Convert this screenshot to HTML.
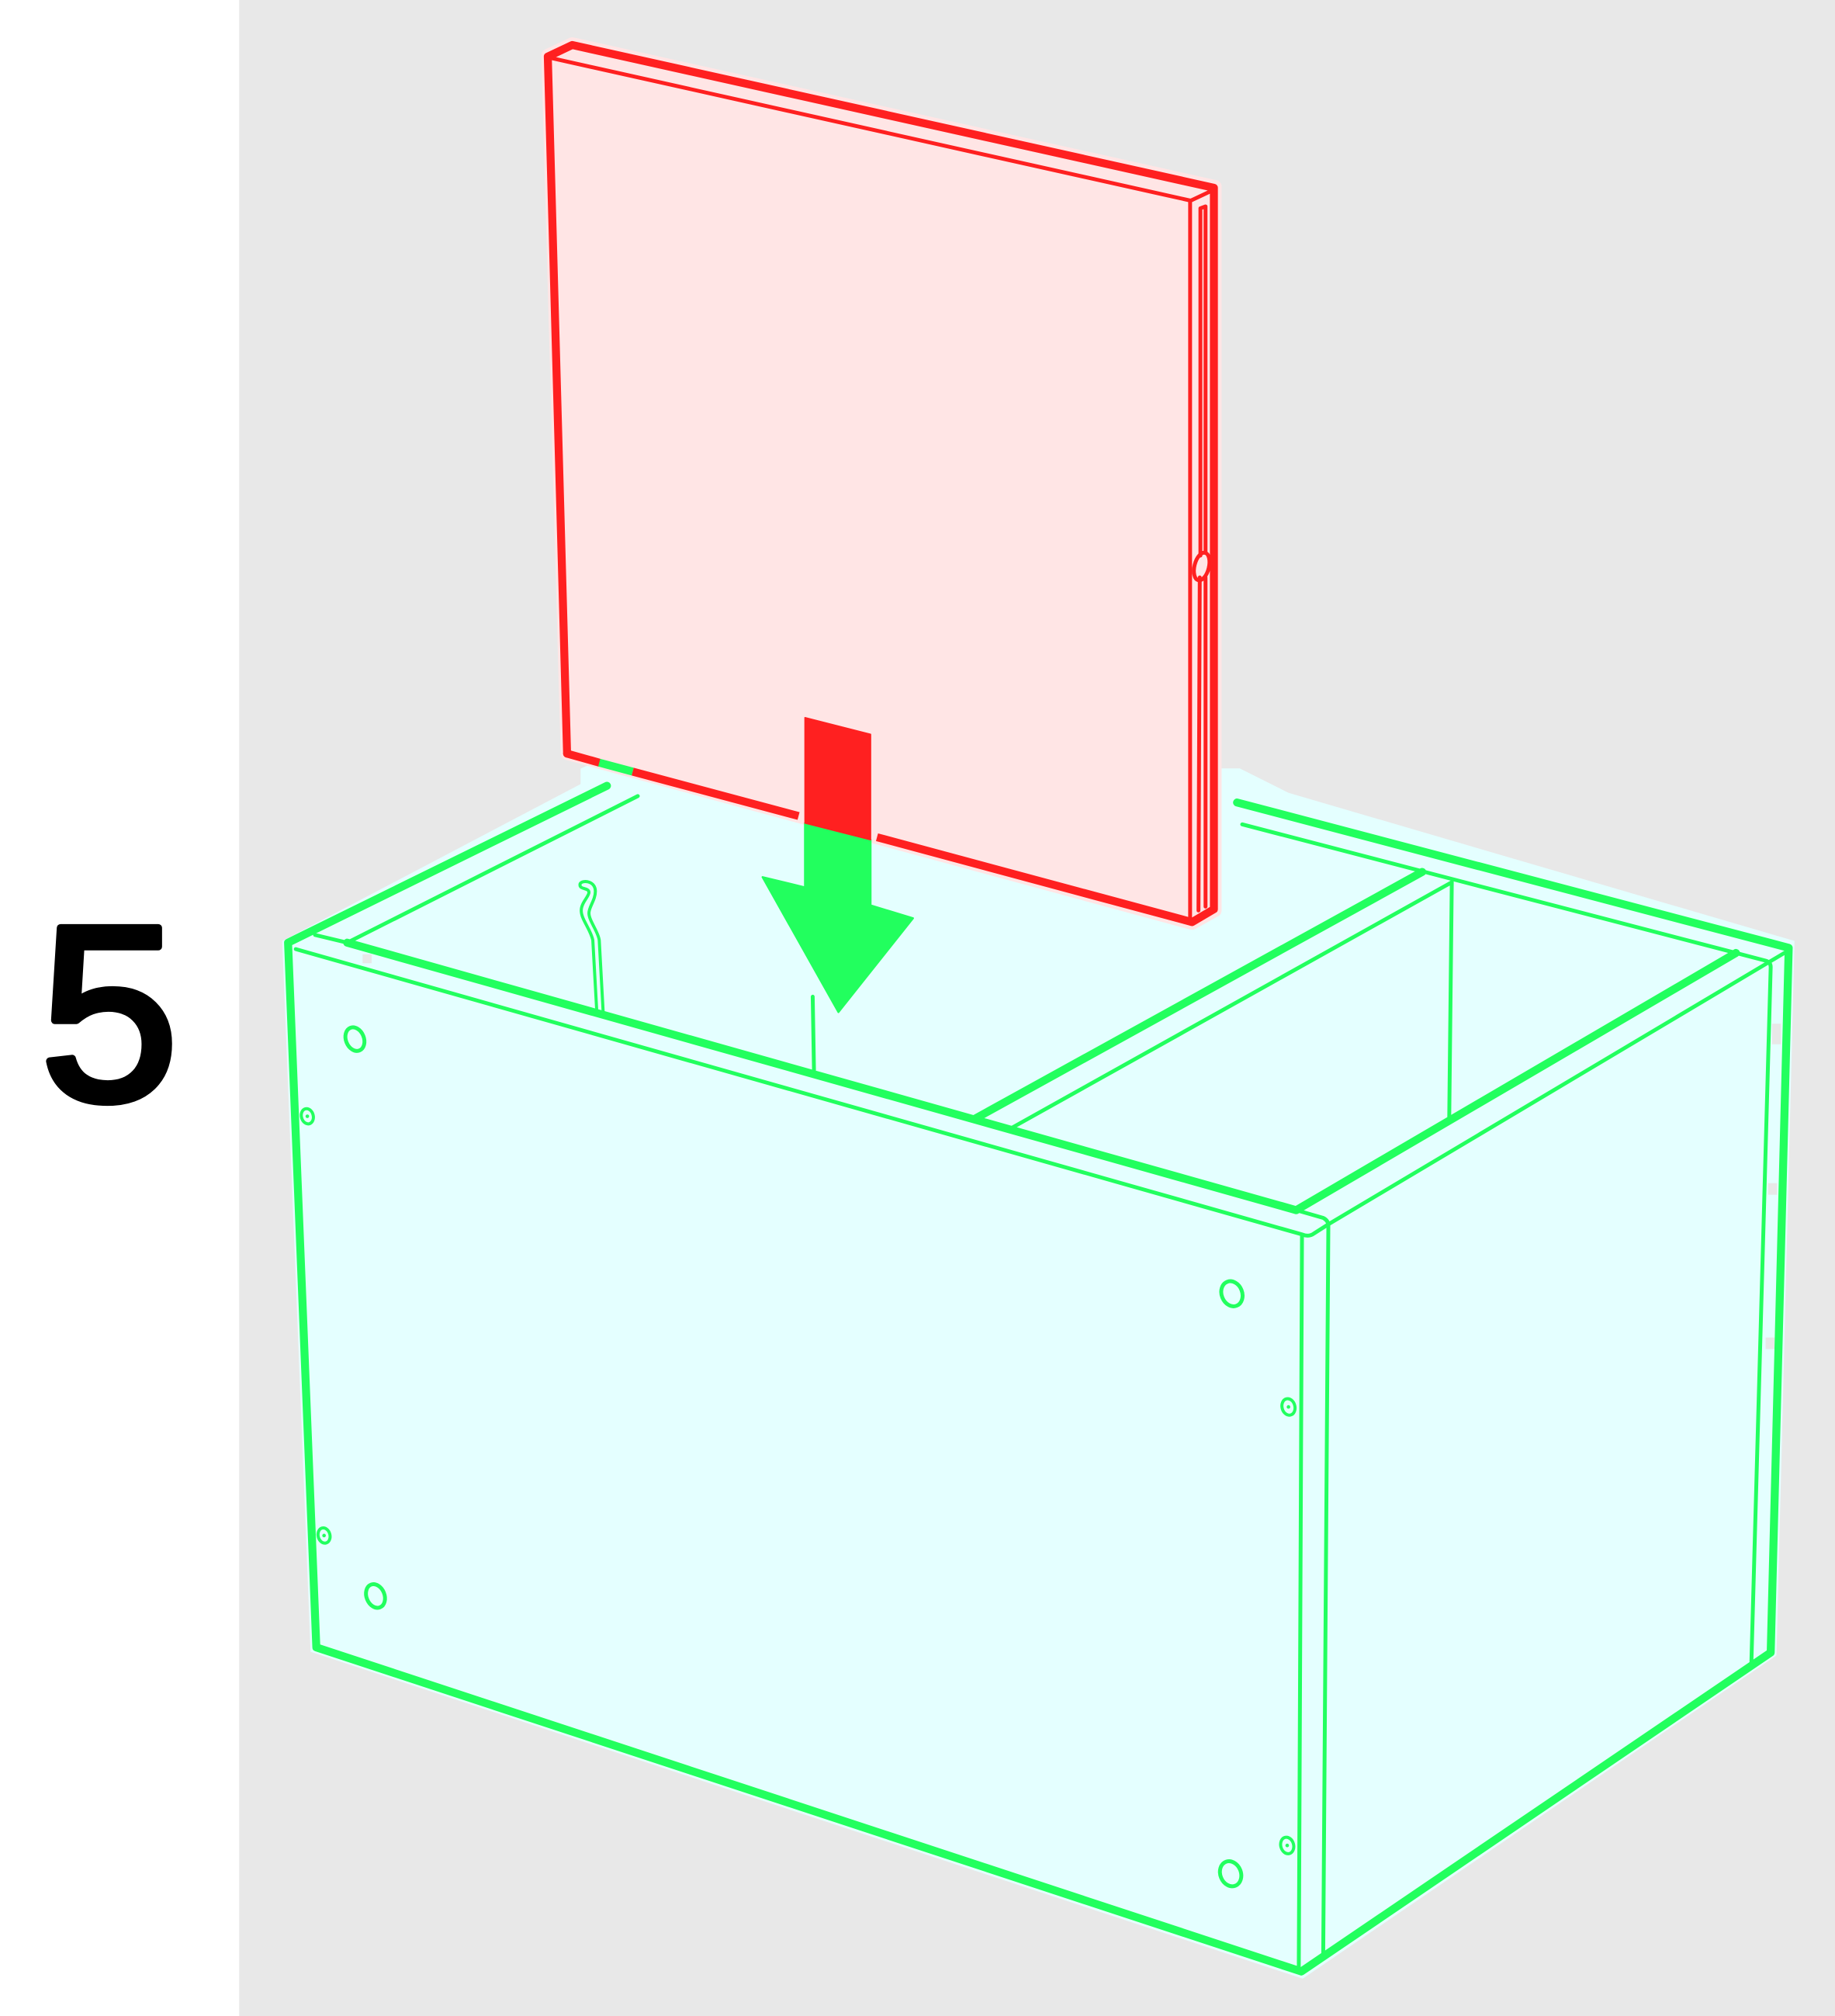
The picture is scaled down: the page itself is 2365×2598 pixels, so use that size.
<!DOCTYPE html>
<html lang="en">
<head>
<meta charset="utf-8">
<title>Assembly step 5</title>
<style>
html,body{margin:0;padding:0;background:#fff;}
svg{display:block;}
.g{stroke:#22ff5e;fill:none;stroke-linecap:round;stroke-linejoin:round;}
.r{stroke:#ff2020;fill:none;stroke-linecap:round;stroke-linejoin:round;}
.k{stroke-width:6.2;}
.t{stroke-width:3;}
</style>
</head>
<body>
<svg xmlns="http://www.w3.org/2000/svg" width="2365" height="2598" viewBox="0 0 1427 1567.6">
  <rect x="0" y="0" width="186" height="1568" fill="#ffffff"/>
  <rect x="186" y="0" width="1241" height="1568" fill="#e8e8e8"/>

  <text x="85" y="855" text-anchor="middle" font-family="'Liberation Sans', sans-serif" font-size="194" fill="#000" stroke="#000" stroke-width="6" stroke-linejoin="round">5</text>

  <polygon points="220,732 452,610 452,598 470,590 492,596 945,598 964,598 1002,617 1395,732 1381,1287 1013,1538 242,1284" fill="#e4ffff" stroke="#e4ffff" stroke-width="1"/>
  <rect x="282" y="742" width="7" height="7" fill="#e8e8e8"/>
  <rect x="1378" y="796" width="7" height="16" fill="#e8e8e8"/>
  <rect x="1375" y="920" width="7" height="9" fill="#e8e8e8"/>
  <rect x="1373" y="1040" width="7" height="9" fill="#e8e8e8"/>

  <g>
    <path class="g k" d="M472,611 L224,733 L246,1281 L1012,1533 L1377,1285 L1391,737 L962,624"/>
    <path class="g t" d="M496,619 L270,733"/>
    <path class="g t" d="M966,641 L1350,741"/>
    <path class="g k" d="M270,733 L1008,941"/>
    <path class="g t" d="M245,727 L270,733"/>
    <path class="g t" d="M230,738 L1013,960 Q1018,962 1022,959 L1033,952 L1391,739"/>
    <path class="g t" d="M1008,941 L1029,947 Q1033,949 1033,953 L1029,1521"/>
    <path class="g t" d="M1012.5,961 L1010,1533"/>
    <path class="g k" d="M1008,941 L1350,741"/>
    <path class="g t" d="M1350,741 L1373,747 Q1377,748 1377,752 L1362,1292"/>
    <path class="g k" d="M758,870 L1106,678"/>
    <path class="g t" d="M785,878 L1129,686"/>
    <path class="g t" d="M1129,686 L1127,870"/>
    <path class="g t" d="M632,775 L633,832"/>
    <path class="g" stroke-width="2.4" d="M464,785 L461,731 C459,722 452,715 452,708 C452,702 458,697 458,694 C458,690 451,692 451,688 C451,684 463,684 463,693 C463,700 458,705 458,710 C458,716 465,724 466,731 L469,786"/>

    <ellipse class="g" stroke-width="3" cx="276" cy="808" rx="7" ry="9.5" transform="rotate(-22 276 808)"/>
    <ellipse class="g" stroke-width="2.4" cx="239" cy="868" rx="4.6" ry="6" transform="rotate(-15 239 868)"/>
    <circle cx="239" cy="868" r="1.4" fill="#22ff5e"/>
    <ellipse class="g" stroke-width="2.4" cx="252" cy="1194" rx="4.6" ry="6" transform="rotate(-15 252 1194)"/>
    <circle cx="252" cy="1194" r="1.4" fill="#22ff5e"/>
    <ellipse class="g" stroke-width="3" cx="292" cy="1241" rx="7" ry="9.5" transform="rotate(-22 292 1241)"/>
    <ellipse class="g" stroke-width="3" cx="958" cy="1006" rx="8" ry="10" transform="rotate(-22 958 1006)"/>
    <ellipse class="g" stroke-width="2.4" cx="1002" cy="1094" rx="5" ry="6.5" transform="rotate(-15 1002 1094)"/>
    <circle cx="1002" cy="1094" r="1.4" fill="#22ff5e"/>
    <ellipse class="g" stroke-width="2.4" cx="1001" cy="1435" rx="5" ry="6.5" transform="rotate(-15 1001 1435)"/>
    <circle cx="1001" cy="1435" r="1.4" fill="#22ff5e"/>
    <ellipse class="g" stroke-width="3" cx="957" cy="1457" rx="8" ry="10" transform="rotate(-22 957 1457)"/>
  </g>

  <g>
    <polygon points="426,43 445,34 945,145 945,708 927,718 441,586" fill="#ffe5e5" stroke="#ffe5e5" stroke-width="10" stroke-linejoin="round"/>
    <path class="r k" d="M441,586 L426,44 L445,35 L944,146 L944,707 L927,717"/>
    <path class="r k" d="M441,586 L466,593"/>
    <path class="g k" d="M466,593 L492,600" style="stroke-linecap:butt"/>
    <path class="r k" d="M492,600 L621,634.5" style="stroke-linecap:butt"/>
    <path class="r k" d="M682,651 L927,717" style="stroke-linecap:butt"/>
    <path class="r t" d="M428,45 L926,156 L943,148"/>
    <path class="r t" d="M925.5,156 L925.5,716"/>
    <path class="r t" d="M933.5,432 L933.5,162 L937.5,160.5 L937.5,430"/>
    <path class="r t" d="M933,449 L932,708 M937.5,449 L937.5,705"/>
    <ellipse class="r" stroke-width="3" cx="934.5" cy="440.5" rx="5.6" ry="11" transform="rotate(14 934.5 440.5)" fill="#ffe5e5"/>
  </g>

  <g>
    <polygon points="626,640 677,653 677,704 710,714 652,787 593,682 626,690" fill="#22ff5e" stroke="#22ff5e" stroke-width="1.5" stroke-linejoin="round"/>
    <polygon points="626,558 677,571 677,653 626,640" fill="#ff2020" stroke="#ff2020" stroke-width="1" stroke-linejoin="round"/>
  </g>
</svg>
</body>
</html>
